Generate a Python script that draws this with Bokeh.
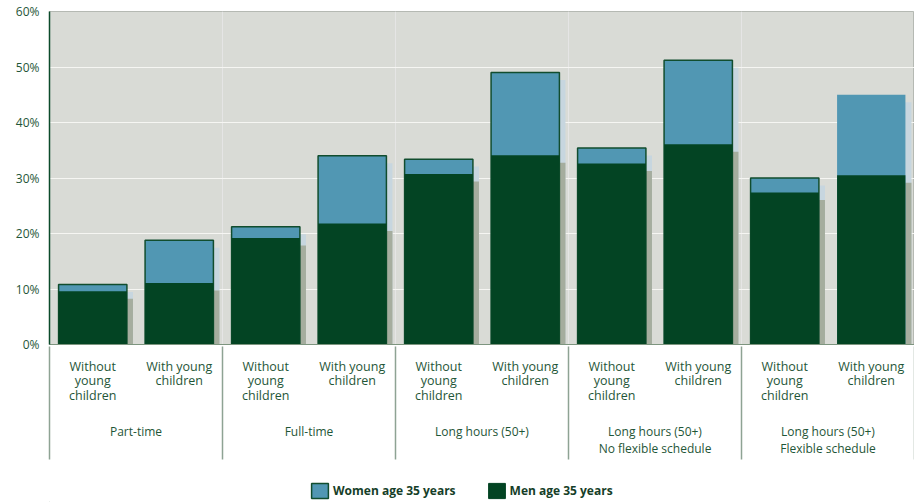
from bokeh.plotting import figure
from bokeh.layouts import column
from bokeh.models import (ColumnDataSource, Range1d, LinearAxis, FixedTicker, PrintfTickFormatter,
                          Grid, Legend, LegendItem)
from bokeh.embed import file_html
from bokeh.resources import INLINE

# ---- data ----
groups = ["Part-time", "Full-time", "Long hours (50+)",
          "Long hours (50+)\nNo flexible schedule", "Long hours (50+)\nFlexible schedule"]
subcats = ["Without\nyoung\nchildren", "With young\nchildren"]
women = [10.8, 18.8, 21.2, 34.0, 33.4, 49.0, 35.4, 51.2, 30.0, 45.0]
men = [9.6, 11.1, 19.2, 21.8, 30.7, 34.1, 32.6, 36.1, 27.4, 30.5]
series = ["Women age 35 years", "Men age 35 years"]
y_ticks = [0, 10, 20, 30, 40, 50, 60]

# ---- styling ----
BG = "#d9dbd6"
WOMEN_C = "#5197b3"
MEN_C = "#034423"
WOMEN_SH = "#c7d6df"
MEN_SH = "#a5ad9e"
OUTLINE = "#114d2e"
TXT = "#1f5638"
DIV = "#8ea394"
FONT = "Open Sans"

n = len(women)
x = [i + 0.5 for i in range(n)]
dx, dy = 0.07, 1.35
src = ColumnDataSource(dict(
    x=x, xs=[v + dx for v in x],
    women=women, men=men,
    women_sh=[v - dy for v in women], men_sh=[v - dy for v in men],
    wl=[1.0] * (n - 1) + [0.0],
))

p = figure(width=914, height=470, x_range=Range1d(0, n), y_range=Range1d(0, 60),
           output_backend="svg", toolbar_location=None,
           x_axis_location=None, y_axis_location=None,
           min_border_left=49, min_border_right=0, min_border_top=11, min_border_bottom=126)
p.background_fill_color = BG
p.border_fill_color = "white"
p.outline_line_color = "#b5b9b3"
p.outline_line_width = 1

yt = FixedTicker(ticks=y_ticks, minor_ticks=[])
p.add_layout(Grid(dimension=1, ticker=yt, grid_line_color="#f6f6f3", grid_line_width=1.2))

W = 0.79
p.vbar(x="xs", top="women_sh", width=W, source=src, fill_color=WOMEN_SH, line_color=None)
p.vbar(x="xs", top="men_sh", width=W, source=src, fill_color=MEN_SH, line_color=None)
p.vbar(x="x", top="women", width=W, source=src, fill_color=WOMEN_C,
       line_color=OUTLINE, line_width=1.5, line_alpha="wl")
p.vbar(x="x", top="men", width=W, source=src, fill_color=MEN_C, line_color=None)

# y axis
ya = LinearAxis(ticker=yt, formatter=PrintfTickFormatter(format="%d%%"))
ya.axis_line_color = "#0b4a2a"
ya.axis_line_width = 1.5
ya.major_tick_line_color = None
ya.major_tick_out = 0
ya.major_tick_in = 0
ya.minor_tick_line_color = None
ya.major_label_standoff = 10
ya.major_label_text_font = FONT
ya.major_label_text_font_size = "12px"
ya.major_label_text_color = TXT
p.add_layout(ya, "left")

# x axis: bar labels
xa = LinearAxis(ticker=FixedTicker(ticks=x, minor_ticks=[]))
xa.major_label_overrides = {xv: subcats[i % 2] for i, xv in enumerate(x)}
xa.axis_line_color = "#7d957f"
xa.axis_line_width = 1
xa.major_tick_line_color = None
xa.major_tick_out = 0
xa.major_tick_in = 0
xa.minor_tick_line_color = None
xa.minor_tick_out = 0
xa.minor_tick_in = 0
xa.major_label_standoff = 13
xa.major_label_text_font = FONT
xa.major_label_text_font_size = "12.5px"
xa.major_label_text_color = TXT
xa.major_label_text_line_height = 0.86
p.add_layout(xa, "below")

# group labels axis
gx = [2 * g + 1 for g in range(len(groups))]
ga = LinearAxis(ticker=FixedTicker(ticks=gx, minor_ticks=[]))
ga.major_label_overrides = {float(v): groups[i] for i, v in enumerate(gx)}
ga.axis_line_color = None
ga.major_tick_line_color = None
ga.major_tick_out = 0
ga.major_tick_in = 0
ga.minor_tick_line_color = None
ga.minor_tick_out = 0
ga.minor_tick_in = 0
ga.major_label_standoff = 16
ga.major_label_text_font = FONT
ga.major_label_text_font_size = "12px"
ga.major_label_text_color = TXT
ga.major_label_text_line_height = 1.02
p.add_layout(ga, "below")

# group dividers: ticks drawn upward from an unlabeled axis
dividers = [2 * g for g in range(len(groups) + 1)]
da = LinearAxis(ticker=FixedTicker(ticks=dividers, minor_ticks=[]))
da.major_label_overrides = {float(v): "" for v in dividers}
da.axis_line_color = None
da.major_tick_in = 113
da.major_tick_out = 0
da.major_tick_line_color = DIV
da.major_tick_line_width = 1.5
da.minor_tick_line_color = None
da.minor_tick_out = 0
da.minor_tick_in = 0
da.major_label_standoff = 0
da.major_label_text_font_size = "1px"
p.add_layout(da, "below")

# legend strip (separate small figure below the chart; its frame aligns with the chart's)
p2 = figure(width=914, height=32, x_range=Range1d(0, 1), y_range=Range1d(100, 101),
            output_backend="svg", toolbar_location=None,
            x_axis_location=None, y_axis_location=None, min_border=0)
p2.grid.visible = False
p2.outline_line_color = None
p2.background_fill_color = "white"
p2.border_fill_color = "white"
# legend-key renderers: zero-width bars far outside the visible range, only the keys show
key_src = ColumnDataSource(dict(x=[-50.0], top=[0.0]))
lw = p2.vbar(x="x", top="top", width=0.0, source=key_src,
             fill_color=WOMEN_C, line_color=OUTLINE, line_width=1.5)
lm = p2.vbar(x="x", top="top", width=0.0, source=key_src,
             fill_color=MEN_C, line_color=MEN_C, line_width=1)
legend = Legend(items=[LegendItem(label=series[0], renderers=[lw], index=0),
                       LegendItem(label=series[1], renderers=[lm], index=0)],
                orientation="horizontal", location=(260, 2))
legend.glyph_width = 21
legend.glyph_height = 19
legend.label_standoff = 3
legend.spacing = 30
legend.padding = 0
legend.margin = 0
legend.border_line_color = None
legend.background_fill_alpha = 0
legend.label_text_font = FONT
legend.label_text_font_style = "bold"
legend.label_text_font_size = "12px"
legend.label_text_color = "#163e28"
legend.label_height = 19
p2.add_layout(legend, "center")

layout = column(p, p2, spacing=0)
open("out.html", "w").write(file_html(layout, INLINE))
